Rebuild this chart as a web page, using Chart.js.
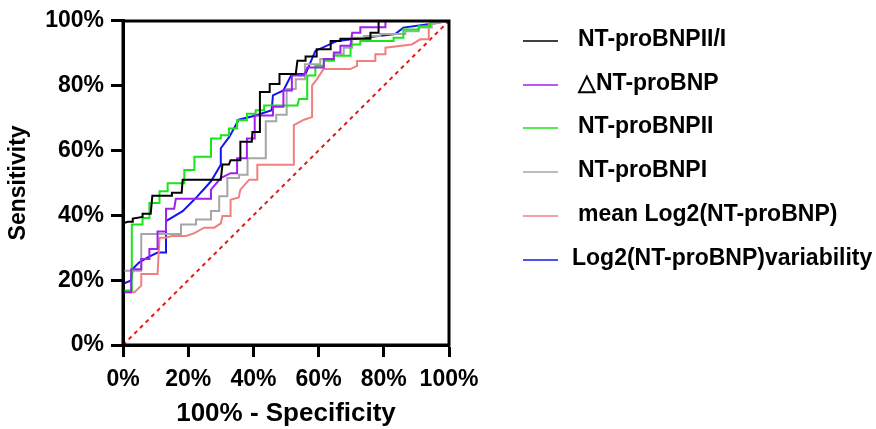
<!DOCTYPE html>
<html>
<head>
<meta charset="utf-8">
<script src="https://cdn.jsdelivr.net/npm/chart.js@4/dist/chart.umd.min.js"></script>
<style>
html,body{margin:0;padding:0;background:#fff;}
#wrap{width:876px;height:429px;position:relative;}
</style>
</head>
<body>
<div id="wrap"><canvas id="c" width="876" height="429"></canvas></div>
<script>
// ---- data (x = 100% - Specificity, y = Sensitivity, in %) ----
const seriesNames = ["NT-proBNPII/I", "\u25B3NT-proBNP", "NT-proBNPII", "NT-proBNPI", "mean Log2(NT-proBNP)", "Log2(NT-proBNP)variability"];
const seriesColors = ["#000000", "#a020f0", "#19e619", "#a6a6a6", "#f08080", "#1414f0"];
const tickValues = [0, 20, 40, 60, 80, 100];

const ratioCurve = [[0,34],[0,37.5],[1.5,38],[3,38],[3,39],[6,39.5],[6,40.5],[8.5,40.5],[9,46],[15,46],[15,47],[18,47],[18.3,51],[30,51],[30.5,55.7],[32.5,55.7],[33,57],[36,57],[36,62.7],[39.5,62.7],[39.7,65.7],[42,65.7],[42,78],[45,78],[45,80.5],[48,80.5],[48,83.6],[53,83.6],[53.5,87.7],[56,87.7],[56,89],[59.4,89],[59.4,91.2],[63.5,91.2],[63.7,93.8],[66.7,93.8],[66.7,94.5],[75.9,94.5],[75.9,96.3],[78.4,96.3],[78.4,100]];
const deltaCurve = [[0,16.3],[2.5,16.3],[2.5,23.4],[5.6,23.4],[5.6,26.5],[8.1,26.5],[8.1,29.6],[10.6,29.6],[10.6,35],[13.2,35],[13.2,42],[15.7,42],[16.2,45.1],[27,45.1],[27,47.9],[30,51.5],[33,53],[35,53],[35,57.6],[38,57.6],[38,63.7],[40.4,63.7],[40.4,70.8],[46,70.8],[46,73.5],[49.2,73.5],[49.2,78.5],[51.8,78.5],[51.8,83.1],[55.5,83.1],[56.5,85.6],[61.6,85.6],[61.6,88.2],[64.7,88.2],[64.7,90.2],[66.7,90.2],[66.7,92.3],[69.8,92.3],[70.3,96.3],[72.8,96.3],[72.8,98],[80.5,98],[80.5,100]];
const ntIICurve = [[0,16.8],[2.7,16.8],[2.7,37.2],[6,37.2],[6,39.2],[8.1,39.2],[8.1,43.8],[11.2,43.8],[11.2,47.4],[13.7,47.4],[13.7,49.9],[18.8,49.9],[18.8,54],[21.9,54],[21.9,58.1],[27,58.1],[27,63.7],[30,63.7],[30,64.7],[32.5,64.7],[32.5,66.8],[35,66.8],[35,69.3],[38,69.3],[38,71.3],[40.7,71.3],[40.7,72.4],[43.3,72.4],[43.3,73.9],[53.5,73.9],[54,75.9],[56.5,75.9],[56.5,83.1],[59,83.1],[59,86.1],[61.6,86.1],[61.6,87.7],[64.7,87.7],[64.7,89.2],[69.8,89.2],[69.8,92.7],[72.8,92.7],[72.8,93.8],[83,93.8],[83,94.8],[86,94.8],[86,97.3],[90.7,97.3],[90.7,98.3],[94.2,98.3],[94.2,99.8],[100,100]];
const ntICurve = [[0,22.9],[5.6,22.9],[5.6,34.2],[17.8,34.2],[17.8,37.2],[22.4,37.2],[22.4,38.7],[27,38.7],[27,41.3],[29.5,41.3],[29.5,45.9],[32,45.9],[32,51.5],[35.6,51.5],[35.6,52.5],[38.2,52.5],[38.2,57.6],[43.8,57.6],[43.8,69],[47,69],[47,71],[50.2,71],[50.2,79],[53,79],[53,82],[55.8,82],[55.8,86.6],[60.5,86.6],[60.5,88.2],[64.6,88.2],[64.6,89.7],[67.7,89.7],[67.7,91.7],[70.3,91.7],[70.3,94.8],[73.9,94.8],[73.9,95.3],[79,95.3],[79,95.9],[86.6,95.9],[86.6,96.8],[90.7,96.8],[90.7,97.9],[94.7,97.9],[94.7,98.9],[100,100]];
const meanLogCurve = [[0,16.3],[3.5,16.3],[5.6,18.3],[5.6,21.9],[10.6,21.9],[11.2,33.1],[13,33.1],[15,33.6],[19.3,33.6],[21.9,34.5],[24.9,36.2],[28,36.2],[30,37.5],[30.5,39.8],[33,39.8],[33,44.8],[35.5,45.5],[36,47.9],[38.7,51],[41.2,51],[41.2,55.6],[52.4,55.6],[52.4,67.8],[55.5,69.5],[58,70.3],[58,80],[59.5,82],[61.5,85.1],[69.7,85.1],[71.8,86.1],[71.8,87.6],[77.4,87.6],[77.4,89.7],[80.5,89.7],[80.5,91.7],[88.6,92.7],[91.2,94.3],[93.8,94.3],[93.8,99],[100,100]];
const variabilityCurve = [[0,18.9],[2.5,19.9],[3,23.5],[5,25.5],[7.6,27],[10.6,28.5],[13.2,28.5],[13.2,38.2],[18.3,41.3],[22.4,45.4],[27,50.5],[30,55.6],[30,60.7],[32.6,64.2],[35.5,69.5],[40.7,70.8],[45.6,72.4],[46,77],[49.2,78.5],[51.8,83.6],[56,83.6],[59,90.7],[65.7,93.8],[83.5,95.9],[86,97.9],[94.2,99],[100,100]];
const referenceLine = [[0,0],[100,100]];

const curves = [ratioCurve, deltaCurve, ntIICurve, ntICurve, meanLogCurve, variabilityCurve];

const FONT = "'Liberation Sans', Arial, Helvetica, sans-serif";
Chart.defaults.font.family = FONT;
Chart.defaults.color = "#000";

const toXY = arr => arr.map(p => ({x: p[0], y: p[1]}));

const datasets = curves.map((c, i) => ({
  label: seriesNames[i],
  data: toXY(c),
  borderColor: seriesColors[i],
  backgroundColor: seriesColors[i],
  borderWidth: 2,
  pointRadius: 0,
  tension: 0,
  fill: false
}));
datasets.push({
  label: "_ref",
  data: toXY(referenceLine),
  borderColor: "#e31a1c",
  borderWidth: 2,
  borderDash: [4, 4],
  pointRadius: 0,
  fill: false
});

const framePlugin = {
  id: "frame",
  afterDatasetsDraw(chart) {
    const a = chart.chartArea, ctx = chart.ctx;
    ctx.save();
    ctx.strokeStyle = "#000";
    ctx.lineWidth = 3;
    ctx.strokeRect(Math.round(a.left), Math.round(a.top), Math.round(a.right - a.left), Math.round(a.bottom - a.top));
    ctx.restore();
  }
};

const legendPlugin = {
  id: "customLegend",
  afterDraw(chart) {
    const ctx = chart.ctx;
    const x0 = 523, x1 = 558, y0 = 40, dy = 43.7;
    ctx.save();
    ctx.font = "bold 23px " + FONT;
    ctx.textBaseline = "middle";
    ctx.textAlign = "left";
    chart.data.datasets.forEach((d, i) => {
      if (d.label.startsWith("_")) return;
      const y = Math.round(y0 + i * dy);
      const tx = (i === 5) ? 572 : 578;
      ctx.strokeStyle = d.borderColor;
      ctx.lineWidth = 1.5;
      ctx.beginPath();
      ctx.moveTo(x0, y + 1);
      ctx.lineTo(x1, y + 1);
      ctx.stroke();
      ctx.fillStyle = "#000";
      ctx.fillText(d.label, tx, y);
    });
    ctx.restore();
  }
};

const axisCommon = {
  type: "linear",
  min: 0,
  max: 100,
  afterBuildTicks(scale) { scale.ticks = tickValues.map(v => ({value: v})); },
  ticks: {
    callback: v => v + "%",
    font: {size: 23, weight: "bold", family: FONT},
    color: "#000",
    autoSkip: false,
    maxRotation: 0
  },
  grid: {
    drawOnChartArea: false,
    drawTicks: true,
    tickLength: 12,
    tickWidth: 3,
    tickColor: "#000"
  },
  border: {display: true, width: 3, color: "#000"}
};

new Chart(document.getElementById("c"), {
  type: "line",
  data: {datasets},
  plugins: [framePlugin, legendPlugin],
  options: {
    responsive: false,
    animation: false,
    devicePixelRatio: 1,
    layout: {padding: {top: 18, right: 427, left: 0, bottom: 0}},
    plugins: {legend: {display: false}, tooltip: {enabled: false}},
    scales: {
      x: Object.assign({}, axisCommon, {
        position: "bottom",
        ticks: Object.assign({}, axisCommon.ticks, {padding: 9}),
        title: {display: true, text: "100% - Specificity", font: {size: 26, weight: "bold", family: FONT}, color: "#000", padding: {top: 0, bottom: 0}},
        afterFit(s) { s.height = 84; }
      }),
      y: Object.assign({}, axisCommon, {
        position: "left",
        ticks: Object.assign({}, axisCommon.ticks, {padding: 7}),
        title: {display: true, text: "Sensitivity", font: {size: 23, weight: "bold", family: FONT}, color: "#000", padding: {top: 5, bottom: 0}},
        afterFit(s) { s.width = 123; }
      })
    }
  }
});
</script>
</body>
</html>
